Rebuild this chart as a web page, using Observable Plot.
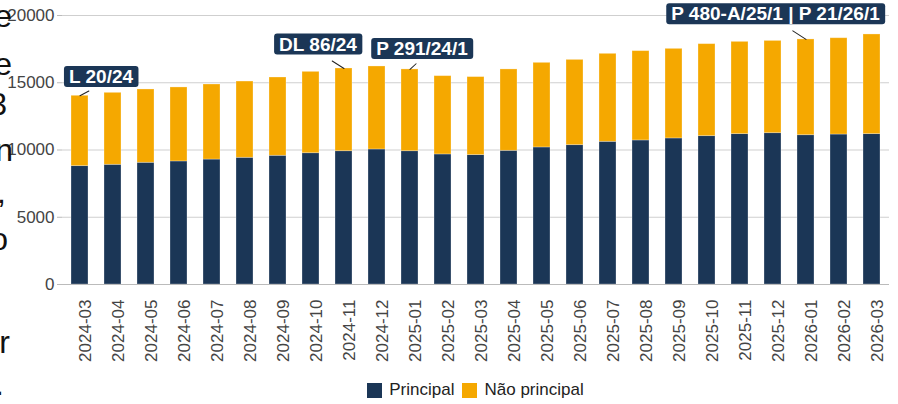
<!DOCTYPE html>
<html><head><meta charset="utf-8">
<script src="https://cdn.jsdelivr.net/npm/d3@7"></script>
<script src="https://cdn.jsdelivr.net/npm/@observablehq/plot@0.6"></script>
<style>
body{margin:0;width:898px;height:404px;overflow:hidden;position:relative;background:#fff;font-family:"Liberation Sans",Arial,sans-serif;}
#cut span{position:absolute;font-size:32px;line-height:32px;color:#111;white-space:nowrap;}
#legend{display:flex;justify-content:center;align-items:center;margin-left:62px;margin-right:9px;margin-top:15px;height:30px;font-size:17px;color:#222;}
#legend .sw{display:inline-block;width:15px;height:15px;margin-right:7px;}
#legend .it{display:flex;align-items:center;margin:0 4px;}
</style></head><body>
<div id="chart"></div>
<div id="legend"></div>
<div id="cut"></div>
<script>
const months = ["2024-03","2024-04","2024-05","2024-06","2024-07","2024-08","2024-09","2024-10","2024-11","2024-12",
  "2025-01","2025-02","2025-03","2025-04","2025-05","2025-06","2025-07","2025-08","2025-09","2025-10","2025-11","2025-12",
  "2026-01","2026-02","2026-03"];
const principal = [8800,8900,9050,9150,9290,9420,9570,9760,9910,10040,9910,9670,9620,9940,10190,10360,10610,10710,10860,11030,11180,11250,11100,11150,11180];
const naoPrincipal = [5230,5350,5450,5500,5580,5670,5820,6050,6150,6170,6080,5820,5800,6050,6290,6340,6540,6640,6660,6840,6860,6860,7120,7160,7410];
const seriesNames = ["Principal","Não principal"];
const seriesColors = ["#1b3656","#f5a800"];
const yTicks = [0,5000,10000,15000,20000];
const annotLabels = ["L 20/24","DL 86/24","P 291/24/1","P 480-A/25/1 | P 21/26/1"];
const annotMonths = ["2024-03","2024-11","2025-01","2026-01"];
// styling offsets (pixels) for label boxes and leader lines
const annotDx = [21,-26,12,-30.5];
const annotDy = [-19,-24,-20.5,-25.3];
const leaderLen = [17.6,24.4,14.6,27.5];
const leaderAngle = [61.8,-57.7,47,-56.9];

const data = [];
months.forEach((m,i)=>{
  data.push({month:m, series:seriesNames[0], value:principal[i]});
  data.push({month:m, series:seriesNames[1], value:naoPrincipal[i]});
});
const annots = annotLabels.map((t,i)=>{
  const k = months.indexOf(annotMonths[i]);
  return {label:t, month:annotMonths[i], total:principal[k]+naoPrincipal[k], dx:annotDx[i], dy:annotDy[i], len:leaderLen[i], ang:leaderAngle[i]};
});
const navy = seriesColors[0];
const lineShape = {draw(ctx, l){ ctx.moveTo(0,0); ctx.lineTo(0,-l); }};

const plot = Plot.plot({
  width:898, height:360,
  marginLeft:62, marginRight:9, marginTop:15, marginBottom:76,
  style:{fontFamily:'"Liberation Sans",Arial,sans-serif', fontSize:"17px", background:"#fff", overflow:"visible"},
  x:{type:"band", domain:months, paddingInner:0.5, paddingOuter:0.1725},
  y:{domain:[0,20000]},
  color:{domain:seriesNames, range:seriesColors},
  marks:[
    Plot.gridY(yTicks, {stroke:"#cfcfcf", strokeOpacity:1}),
    Plot.axisY(yTicks, {tickSize:5, tickPadding:3, tickFormat:d3.format("d"), stroke:"#bbb", fill:"#444", fontSize:17, label:null}),
    Plot.barY(data, {x:"month", y:"value", fill:"series", stroke:"#fff", strokeOpacity:0.35, strokeWidth:0.8}),
    Plot.ruleY([0], {stroke:"#bbb"}),
    Plot.axisX({tickSize:0, tickPadding:15, tickRotate:-90, dx:6, fill:"#444", fontSize:17, label:null}),
    Plot.vector(annots, {x:"month", y:"total", length:"len", rotate:"ang", anchor:"start", shape:lineShape, stroke:"#222", strokeWidth:1}),
    ...annots.map(a => Plot.text([a], {x:"month", y:"total", text:"label", dx:a.dx, dy:a.dy, fill:"#fff", fontSize:19, fontWeight:"bold"}))
  ]
});
document.getElementById("chart").appendChild(plot);

document.querySelectorAll('g[aria-label="text"] text').forEach(t=>{
  const bb = t.getBBox();
  const r = document.createElementNS("http://www.w3.org/2000/svg","rect");
  r.setAttribute("x", bb.x-5); r.setAttribute("y", bb.y);
  r.setAttribute("width", bb.width+10); r.setAttribute("height", bb.height);
  r.setAttribute("rx", 3); r.setAttribute("fill", navy);
  const tr = t.getAttribute("transform"); if (tr) r.setAttribute("transform", tr);
  t.parentNode.insertBefore(r, t);
});

const lg = document.getElementById("legend");
seriesNames.forEach((n,i)=>{
  const it = document.createElement("span"); it.className="it";
  const sw = document.createElement("span"); sw.className="sw"; sw.style.background=seriesColors[i];
  it.appendChild(sw); it.appendChild(document.createTextNode(n));
  lg.appendChild(it);
});

// clipped characters of neighbouring paragraph at the left edge
const cutChars = ["e","e","3","n",",","o","r","."];
const cutBase = [27,75,115,161,203,250,353,395];
const cutRight = [12,12,7,13,6,8,10,4];
const cut = document.getElementById("cut");
cutChars.forEach((c,i)=>{
  const s = document.createElement("span");
  s.textContent = c;
  s.style.right = (898 - cutRight[i]) + "px";
  s.style.top = (cutBase[i]-27) + "px";
  cut.appendChild(s);
});
</script>
</body></html>
